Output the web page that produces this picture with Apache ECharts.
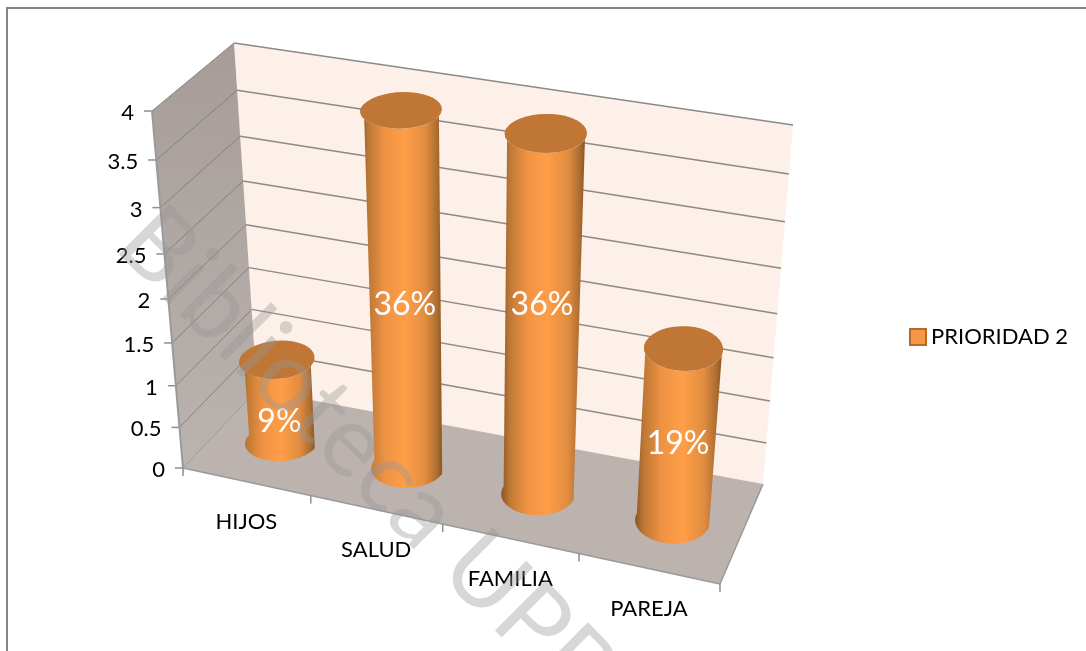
<!DOCTYPE html>
<html>
<head>
<meta charset="utf-8">
<style>
html,body{margin:0;padding:0;background:#fff;overflow:hidden}
#chart{width:1086px;height:651px}
</style>
<script src="https://cdn.jsdelivr.net/npm/echarts@6/dist/echarts.min.js"></script>
</head>
<body>
<div id="chart"></div>
<script>
// datos
var categories = ['HIJOS', 'SALUD', 'FAMILIA', 'PAREJA'];
var values = [1, 4, 4, 2];
var percentLabels = ['9%', '36%', '36%', '19%'];
var yTicks = [0, 0.5, 1, 1.5, 2, 2.5, 3, 3.5, 4];
var seriesName = 'PRIORIDAD 2';

// esquinas de la caja 3D: abajo-izq, abajo-der, arriba-der, arriba-izq
var frontQuad = [[183, 468], [720, 584], [752, 214], [152, 111]];
var backQuad = [[257, 390], [763, 484], [793, 125], [234, 43]];
var labelDy = [21, 7, -18, 7];
var font = 'Lato, "Open Sans", sans-serif';

function quadMap(q) {
	var x0 = q[0][0], y0 = q[0][1], x1 = q[1][0], y1 = q[1][1];
	var x2 = q[2][0], y2 = q[2][1], x3 = q[3][0], y3 = q[3][1];
	var dx1 = x1 - x2, dx2 = x3 - x2, sx = x0 - x1 + x2 - x3;
	var dy1 = y1 - y2, dy2 = y3 - y2, sy = y0 - y1 + y2 - y3;
	var det = dx1 * dy2 - dx2 * dy1;
	var g = (sx * dy2 - dx2 * sy) / det;
	var h = (dx1 * sy - sx * dy1) / det;
	var a = x1 - x0 + g * x1, b = x3 - x0 + h * x3;
	var d = y1 - y0 + g * y1, e = y3 - y0 + h * y3;
	return function (u, v) {
		var k = g * u + h * v + 1;
		return [(a * u + b * v + x0) / k, (d * u + e * v + y0) / k];
	};
}
var frontMap = quadMap(frontQuad);
var backMap = quadMap(backQuad);

// u: a lo largo del eje x, v: altura, w: profundidad (0 delante, 1 atras)
function project(u, v, w) {
	var f = frontMap(u, v), b = backMap(u, v);
	return [f[0] + (b[0] - f[0]) * w, f[1] + (b[1] - f[1]) * w];
}

// pasa un valor por las escalas del grid y lo deja en 0..1
function toUV(api, params, cat, val) {
	var p = api.coord([cat, val]);
	var cs = params.coordSys;
	return [(p[0] - cs.x) / cs.width, 1 - (p[1] - cs.y) / cs.height];
}

function poly(points, fill, z2) {
	return { type: 'polygon', z2: z2 || 0, shape: { points: points }, style: { fill: fill } };
}
function seg(a, b, color, width) {
	return { type: 'line', shape: { x1: a[0], y1: a[1], x2: b[0], y2: b[1] }, style: { stroke: color, lineWidth: width, fill: null } };
}
function label(text, x, y, align) {
	return { type: 'text', x: x, y: y, style: { text: text, font: '22px ' + font, fill: '#000', align: align, verticalAlign: 'middle' } };
}

function renderFrame(params, api) {
	var kids = [];
	// paredes y piso
	kids.push(poly([project(0, 0, 1), project(1, 0, 1), project(1, 1, 1), project(0, 1, 1)], '#FDF0E8'));
	kids.push({
		type: 'polygon',
		shape: { points: [project(0, 0, 0), project(0, 0, 1), project(0, 1, 1), project(0, 1, 0)] },
		style: { fill: { type: 'linear', x: 0, y: 0, x2: 0, y2: 1, colorStops: [{ offset: 0, color: '#A69D99' }, { offset: 1, color: '#BBB3AF' }] } }
	});
	kids.push(poly([project(0, 0, 0), project(1, 0, 0), project(1, 0, 1), project(0, 0, 1)], '#BCB3AF'));

	yTicks.forEach(function (t) {
		var v = toUV(api, params, 0, t)[1];
		var a = project(0, v, 0), b = project(0, v, 1), c = project(1, v, 1);
		if (t > 0) {
			kids.push(seg(a, b, '#85807B', 1));
			kids.push(seg(b, c, '#8C8A88', 1.5));
		}
		kids.push(seg([a[0] - 8, a[1]], a, '#8E8E8E', 1.5));
		kids.push(label(String(t), a[0] - 18, a[1] + 2, 'right'));
	});

	// bordes
	kids.push(seg(project(0, 0, 0), project(0, 1, 0), '#9A9A9A', 2));
	kids.push(seg(project(0, 0, 0), project(1, 0, 0), '#9A9A9A', 1.5));
	kids.push(seg(project(1, 0, 0), project(1, 0, 1), '#9A9A9A', 1.5));
	kids.push(seg(project(0, 0, 0), project(0, 0, 1), '#9A9A9A', 1));

	for (var i = 0; i <= categories.length; i++) {
		var p = project(i / categories.length, 0, 0);
		kids.push(seg(p, [p[0], p[1] + 8], '#8E8E8E', 1.5));
	}
	categories.forEach(function (name, idx) {
		var u = toUV(api, params, idx, 0)[0];
		var q = project(u, 0, 0);
		kids.push(label(name, q[0], q[1] + 40, 'center'));
	});
	return { type: 'group', children: kids };
}

function ring(u0, v, from, to) {
	var ru = 0.066, rw = 0.23, w0 = 0.5, n = 36, pts = [];
	for (var k = 0; k <= n; k++) {
		var t = from + (to - from) * k / n;
		pts.push(project(u0 + ru * Math.cos(t), v, w0 + rw * Math.sin(t)));
	}
	return pts;
}

function renderCylinder(params, api) {
	var idx = api.value(0);
	var uv = toUV(api, params, idx, api.value(1));
	var u = uv[0], v = uv[1];
	var body = ring(u, 0, Math.PI, 2 * Math.PI).concat(ring(u, v, 2 * Math.PI, Math.PI));
	var mid = project(u, v / 2, 0.5);
	return {
		type: 'group',
		children: [{
			type: 'polygon',
			shape: { points: body },
			style: {
				fill: {
					type: 'linear', x: 0, y: 0, x2: 1, y2: 0,
					colorStops: [
						{ offset: 0, color: '#8C5522' }, { offset: 0.1, color: '#BD7836' },
						{ offset: 0.3, color: '#EE9243' }, { offset: 0.55, color: '#FF9E48' },
						{ offset: 0.8, color: '#E08C40' }, { offset: 0.94, color: '#AB6D30' },
						{ offset: 1, color: '#8C5522' }
					]
				}
			}
		}, poly(ring(u, v, 0, 2 * Math.PI), '#C07635', 2), {
			type: 'text',
			x: mid[0],
			y: mid[1] + labelDy[idx],
			z2: 3,
			style: { text: percentLabels[idx], font: '32px ' + font, fill: '#fff', align: 'center', verticalAlign: 'middle' }
		}]
	};
}

var chart = echarts.init(document.getElementById('chart'), null, { renderer: 'canvas' });
chart.setOption({
	animation: false,
	backgroundColor: '#fff',
	tooltip: { show: false },
	grid: { left: 150, top: 40, right: 290, bottom: 60 },
	xAxis: { type: 'category', data: categories, show: false },
	yAxis: { type: 'value', min: 0, max: 4, interval: 0.5, show: false },
	legend: {
		data: [seriesName],
		left: 904,
		top: 321,
		icon: 'rect',
		itemWidth: 16,
		itemHeight: 16,
		itemGap: 6,
		selectedMode: false,
		textStyle: { fontFamily: font, fontSize: 22, color: '#000' }
	},
	graphic: [{
		type: 'rect',
		z: -1,
		shape: { x: 7, y: 8, width: 1300, height: 900 },
		style: { fill: '#fff', stroke: '#868686', lineWidth: 2 }
	}, {
		type: 'text',
		z: 100,
		silent: true,
		x: 135,
		y: 225,
		rotation: -Math.PI / 4,
		style: { text: 'Biblioteca UPB', font: '100px ' + font, fill: 'rgba(150,150,150,0.38)', verticalAlign: 'middle' }
	}],
	series: [{
		name: 'marco',
		type: 'custom',
		silent: true,
		z: 1,
		renderItem: renderFrame,
		data: [[0, 0]]
	}, {
		name: seriesName,
		type: 'custom',
		silent: true,
		z: 2,
		renderItem: renderCylinder,
		itemStyle: { color: '#F79646', borderColor: '#B66A2A', borderWidth: 2 },
		encode: { x: 0, y: 1 },
		data: values.map(function (val, i) { return [i, val]; })
	}]
});
</script>
</body>
</html>
